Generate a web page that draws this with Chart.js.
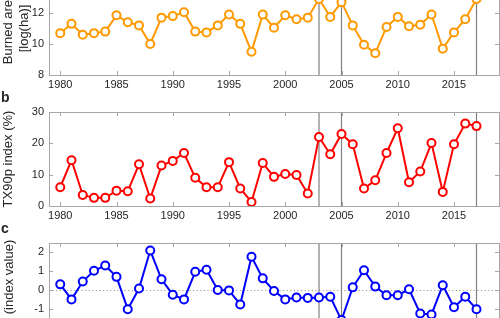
<!DOCTYPE html>
<html>
<head>
<meta charset="utf-8">
<script src="https://cdn.jsdelivr.net/npm/chart.js@4"></script>
<style>
  html, body { margin: 0; padding: 0; background: #fff; }
  body {
    width: 500px; height: 318px; overflow: hidden; position: relative;
    font-family: "Liberation Sans", Arial, sans-serif; color: #262626;
  }
  .panel { position: absolute; left: 0; width: 500px; }
  .tag { position: absolute; left: 1px; font-weight: bold; font-size: 14px; line-height: 14px; z-index: 2; }
  .ytitle {
    position: absolute; font-size: 13px; line-height: 1; white-space: nowrap;
    transform: translate(-50%, -50%) rotate(-90deg);
  }
</style>
</head>
<body>
<div class="panel" style="top:-18px;height:113px"><canvas id="chartA"></canvas></div>
<div class="panel" style="top:104px;height:122px"><canvas id="chartB"></canvas></div>
<div class="panel" style="top:235px;height:122px"><canvas id="chartC"></canvas></div>
<div class="tag" style="top:90px">b</div>
<div class="tag" style="top:221px">c</div>
<div class="ytitle" style="left:8px;top:277px">(index value)</div>

<script>
// Data
const years = [1980, 1981, 1982, 1983, 1984, 1985, 1986, 1987, 1988, 1989,
  1990, 1991, 1992, 1993, 1994, 1995, 1996, 1997, 1998, 1999,
  2000, 2001, 2002, 2003, 2004, 2005, 2006, 2007, 2008, 2009,
  2010, 2011, 2012, 2013, 2014, 2015, 2016, 2017];

const burnedArea = [10.7, 11.3, 10.6, 10.7, 10.8, 11.85, 11.4, 11.2, 10.0, 11.7,
  11.8, 12.05, 10.8, 10.75, 11.2, 11.9, 11.3, 9.5, 11.9, 11.05,
  11.85, 11.6, 11.7, 12.9, 11.75, 12.7, 11.2, 9.95, 9.4, 11.1,
  11.75, 11.15, 11.25, 11.9, 9.7, 10.75, 11.6, 12.9];

const tx90p = [6.0, 14.6, 3.5, 2.6, 2.6, 4.9, 4.7, 13.3, 2.4, 12.9,
  14.4, 16.9, 9.0, 6.0, 6.0, 14.0, 5.6, 1.3, 13.7, 9.3,
  10.2, 9.9, 4.0, 22.0, 16.5, 23.0, 19.7, 5.6, 8.2, 16.9,
  24.8, 7.6, 11.0, 20.1, 4.5, 19.7, 26.3, 25.5];

const indexValue = [0.3, -0.5, 0.45, 1.02, 1.3, 0.7, -1.02, 0.08, 2.1, 0.57,
  -0.25, -0.5, 0.97, 1.08, 0.0, -0.02, -0.77, 1.77, 0.62, -0.05,
  -0.5, -0.4, -0.42, -0.4, -0.36, -1.6, 0.14, 1.05, 0.18, -0.28,
  -0.28, 0.04, -1.25, -1.3, 0.25, -0.92, -0.36, -1.02];

const eventYears = [2003, 2005, 2017];
const xTicks = [1980, 1985, 1990, 1995, 2000, 2005, 2010, 2015];
const ticksA = [8, 10, 12, 14];
const ticksB = [0, 10, 20, 30];
const ticksC = [-2, -1, 0, 1, 2];

const textColor = '#262626';
const frameColor = '#a6a6a6';

// box, inward ticks, marker lines for the event years
const framePlugin = {
  id: 'frame',
  beforeDatasetsDraw(chart, args, opts) {
    const { ctx, chartArea: a, scales: { x, y } } = chart;
    ctx.save();
    if (opts.zeroLine) {
      const py = Math.round(y.getPixelForValue(0)) + 0.5;
      ctx.strokeStyle = '#9a9a9a';
      ctx.lineWidth = 1;
      ctx.setLineDash([1.2, 2.4]);
      ctx.beginPath();
      ctx.moveTo(a.left, py);
      ctx.lineTo(a.right, py);
      ctx.stroke();
      ctx.setLineDash([]);
    }
    ctx.strokeStyle = '#808080';
    ctx.lineWidth = 1.2;
    eventYears.forEach((yr) => {
      const px = x.getPixelForValue(yr);
      ctx.beginPath();
      ctx.moveTo(px, a.top);
      ctx.lineTo(px, a.bottom);
      ctx.stroke();
    });
    ctx.restore();
  },
  afterDatasetsDraw(chart) {
    const { ctx, chartArea: a, scales: { x, y } } = chart;
    const len = 4;
    ctx.save();
    ctx.strokeStyle = frameColor;
    ctx.lineWidth = 1;
    ctx.beginPath();
    x.ticks.forEach((t) => {
      const px = Math.round(x.getPixelForValue(t.value)) + 0.5;
      ctx.moveTo(px, a.bottom); ctx.lineTo(px, a.bottom - len);
      ctx.moveTo(px, a.top); ctx.lineTo(px, a.top + len);
    });
    y.ticks.forEach((t) => {
      const py = Math.round(y.getPixelForValue(t.value)) + 0.5;
      ctx.moveTo(a.left, py); ctx.lineTo(a.left + len, py);
      ctx.moveTo(a.right, py); ctx.lineTo(a.right - len, py);
    });
    ctx.stroke();
    ctx.strokeRect(Math.round(a.left) + 0.5, Math.round(a.top) + 0.5,
      Math.round(a.right - a.left), Math.round(a.bottom - a.top));
    ctx.restore();
  }
};

// keep the plot box where it is: no extra room for overhanging labels
function noOverhang(s) {
  s.paddingTop = 0;
  s.paddingBottom = 0;
  s.paddingLeft = 0;
  s.paddingRight = 0;
}

function makePanel(id, values, color, yMin, yMax, yTicks, title, zeroLine, padTop) {
  return new Chart(document.getElementById(id), {
    type: 'line',
    data: {
      datasets: [{
        data: years.map((yr, i) => ({ x: yr, y: values[i] })),
        borderColor: color,
        borderWidth: 2,
        pointRadius: 4,
        pointBorderWidth: 2,
        pointBorderColor: color,
        pointBackgroundColor: '#ffffff',
        tension: 0
      }]
    },
    options: {
      responsive: true,
      maintainAspectRatio: false,
      animation: false,
      layout: { autoPadding: false, padding: { left: 0, right: 1, top: padTop, bottom: 0 } },
      plugins: {
        legend: { display: false },
        tooltip: { enabled: false },
        frame: { zeroLine: zeroLine }
      },
      scales: {
        x: {
          type: 'linear',
          min: 1979,
          max: 2019,
          grid: { display: false, drawTicks: false },
          border: { display: false },
          afterBuildTicks: (s) => { s.ticks = xTicks.map((v) => ({ value: v })); },
          afterFit: (s) => { s.height = 20; noOverhang(s); },
          ticks: {
            color: textColor,
            font: { family: '"Liberation Sans", Arial, sans-serif', size: 11 },
            padding: 3,
            maxRotation: 0,
            autoSkip: false,
            callback: (v) => String(v)
          }
        },
        y: {
          min: yMin,
          max: yMax,
          grid: { display: false, drawTicks: false },
          border: { display: false },
          afterBuildTicks: (s) => { s.ticks = yTicks.map((v) => ({ value: v })); },
          afterFit: (s) => { s.width = 49; noOverhang(s); },
          ticks: {
            color: textColor,
            font: { family: '"Liberation Sans", Arial, sans-serif', size: 11 },
            padding: 5,
            callback: (v) => String(v)
          },
          title: {
            display: !!title,
            text: title || '',
            color: textColor,
            font: { family: '"Liberation Sans", Arial, sans-serif', size: 13, lineHeight: 1.25 },
            padding: 0
          }
        }
      }
    },
    plugins: [framePlugin]
  });
}

makePanel('chartA', burnedArea, '#ff9900', 8, 14, ticksA, ['Burned area', '[log(ha)]'], false, 0);
makePanel('chartB', tx90p, '#ff0000', 0, 30, ticksB, 'TX90p index (%)', false, 8);
makePanel('chartC', indexValue, '#0000ff', -2.5, 2.5, ticksC, null, true, 8);
</script>
</body>
</html>
